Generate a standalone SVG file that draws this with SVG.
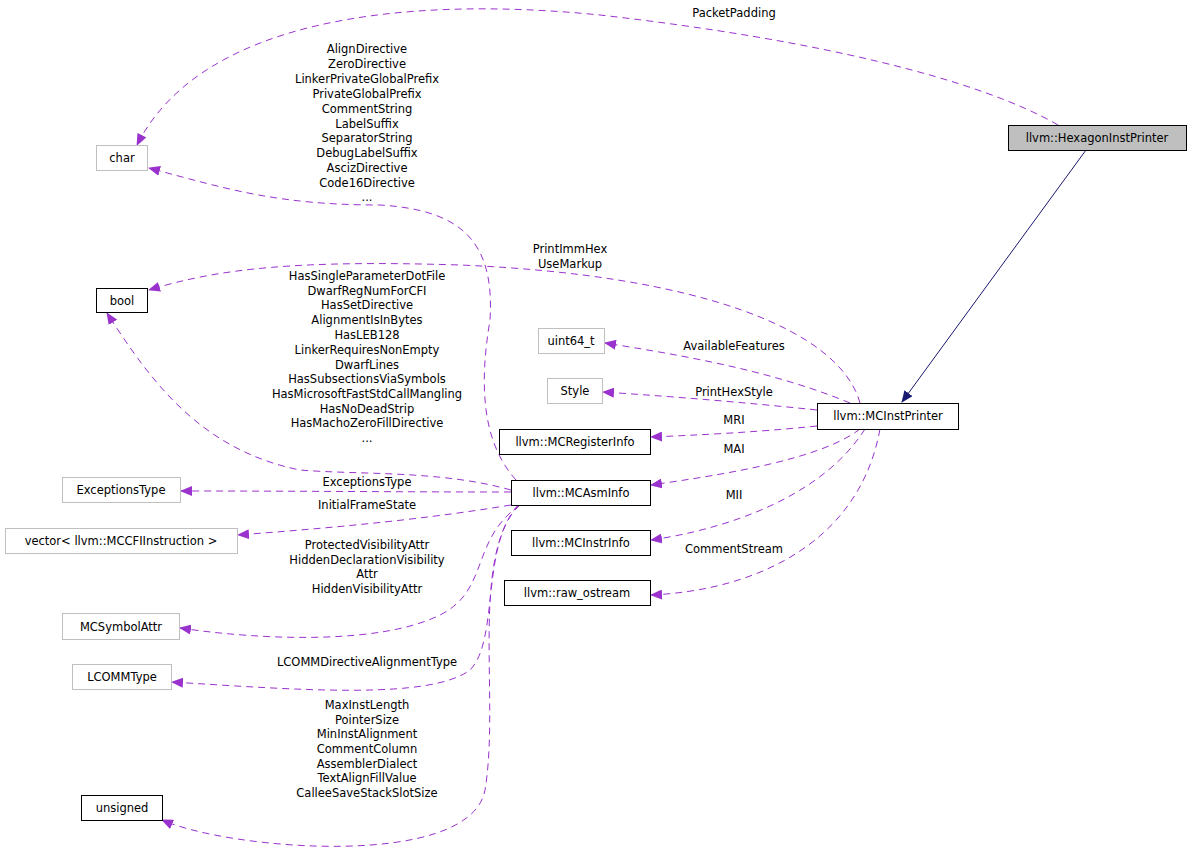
<svg xmlns="http://www.w3.org/2000/svg" width="1192" height="857" viewBox="0 0 1192 857">
<style>
text{font-family:"DejaVu Sans",sans-serif;font-size:11.5px;fill:#000;text-anchor:middle}
.b{fill:#fff;stroke:#000;stroke-width:1}
.g{fill:#fff;stroke:#bfbfbf;stroke-width:1}
.e{fill:none;stroke:#9a32cd;stroke-dasharray:7,5;stroke-width:1}
</style>
<defs>
<marker id="a" markerWidth="12" markerHeight="10" refX="11" refY="5" orient="auto" markerUnits="userSpaceOnUse"><path d="M0,0 L12,5 L0,10 z" fill="#9a32cd"/></marker>
<marker id="n" markerWidth="12" markerHeight="10" refX="11" refY="5" orient="auto" markerUnits="userSpaceOnUse"><path d="M0,0 L12,5 L0,10 z" fill="#191970"/></marker>
</defs>
<rect width="1192" height="857" fill="#fff"/>
<g id="edges">
<path class="e" marker-end="url(#a)" d="M1058,125 C980,80 820,40 600,15 C400,-5 200,20 137,145"/>
<path d="M1086,150 L902,402" stroke="#191970" fill="none" marker-end="url(#n)"/>
<path class="e" marker-end="url(#a)" d="M516,480 C480,440 480,380 490,320 C495,240 460,210 380,205 C280,205 230,190 149,168"/>
<path class="e" marker-end="url(#a)" d="M860,403 C840,330 700,275 460,265 C300,260 220,268 149,290"/>
<path class="e" marker-end="url(#a)" d="M511,490 C440,470 360,475 300,470 C200,450 150,380 107,313"/>
<text x="734" y="17">PacketPadding</text>
<path class="e" marker-end="url(#a)" d="M850,403 C770,370 680,355 605,343"/>
<path class="e" marker-end="url(#a)" d="M817,410 C750,403 680,397 603,392"/>
<path class="e" marker-end="url(#a)" d="M817,426 C760,432 700,435 651,437"/>
<path class="e" marker-end="url(#a)" d="M860,429 C820,460 720,475 651,485"/>
<path class="e" marker-end="url(#a)" d="M865,429 C820,500 720,530 651,540"/>
<path class="e" marker-end="url(#a)" d="M880,429 C860,540 760,590 651,595"/>
<path class="e" marker-end="url(#a)" d="M511,492 C400,492 300,491 181,491"/>
<path class="e" marker-end="url(#a)" d="M511,505 C420,520 330,528 238,535"/>
<path class="e" marker-end="url(#a)" d="M520,505 C470,540 490,590 440,615 C380,645 260,640 180,628"/>
<path class="e" marker-end="url(#a)" d="M520,505 C480,540 500,640 470,670 C430,700 300,690 172,682"/>
<path class="e" marker-end="url(#a)" d="M518,505 C470,560 500,700 485,790 C470,870 230,850 162,820"/>
</g>
<g id="labels">
<text x="367" y="53">AlignDirective</text>
<text x="367" y="68">ZeroDirective</text>
<text x="367" y="83">LinkerPrivateGlobalPrefix</text>
<text x="367" y="98">PrivateGlobalPrefix</text>
<text x="367" y="113">CommentString</text>
<text x="367" y="128">LabelSuffix</text>
<text x="367" y="142">SeparatorString</text>
<text x="367" y="157">DebugLabelSuffix</text>
<text x="367" y="172">AscizDirective</text>
<text x="367" y="187">Code16Directive</text>
<text x="367" y="201">...</text>
<text x="570" y="253">PrintImmHex</text>
<text x="570" y="268">UseMarkup</text>
<text x="367" y="280">HasSingleParameterDotFile</text>
<text x="367" y="295">DwarfRegNumForCFI</text>
<text x="367" y="309">HasSetDirective</text>
<text x="367" y="324">AlignmentIsInBytes</text>
<text x="367" y="339">HasLEB128</text>
<text x="367" y="354">LinkerRequiresNonEmpty</text>
<text x="367" y="369">DwarfLines</text>
<text x="367" y="383">HasSubsectionsViaSymbols</text>
<text x="367" y="398">HasMicrosoftFastStdCallMangling</text>
<text x="367" y="413">HasNoDeadStrip</text>
<text x="367" y="427">HasMachoZeroFillDirective</text>
<text x="367" y="442">...</text>
<text x="734" y="350">AvailableFeatures</text>
<text x="734" y="396">PrintHexStyle</text>
<text x="734" y="424">MRI</text>
<text x="734" y="453">MAI</text>
<text x="734" y="499">MII</text>
<text x="734" y="553">CommentStream</text>
<text x="367" y="486">ExceptionsType</text>
<text x="367" y="509">InitialFrameState</text>
<text x="367" y="549">ProtectedVisibilityAttr</text>
<text x="367" y="564">HiddenDeclarationVisibility</text>
<text x="367" y="578">Attr</text>
<text x="367" y="593">HiddenVisibilityAttr</text>
<text x="367" y="666">LCOMMDirectiveAlignmentType</text>
<text x="367" y="709">MaxInstLength</text>
<text x="367" y="724">PointerSize</text>
<text x="367" y="738">MinInstAlignment</text>
<text x="367" y="753">CommentColumn</text>
<text x="367" y="768">AssemblerDialect</text>
<text x="367" y="782">TextAlignFillValue</text>
<text x="367" y="797">CalleeSaveStackSlotSize</text>
</g>
<g id="HexagonInstPrinter"><rect x="1008.5" y="125.5" width="178" height="25" fill="#bfbfbf" stroke="#000"/><text x="1097" y="142">llvm::HexagonInstPrinter</text></g>
<g id="char"><rect class="g" x="96.5" y="145.5" width="51" height="25"/><text x="122" y="162">char</text></g>
<g id="bool"><rect class="b" x="96.5" y="288.5" width="51" height="24"/><text x="122" y="305">bool</text></g>
<g id="uint64_t"><rect class="g" x="538.5" y="328.5" width="66" height="25"/><text x="571" y="345">uint64_t</text></g>
<g id="Style"><rect class="g" x="547.5" y="378.5" width="55" height="25"/><text x="575" y="395">Style</text></g>
<g id="MCRegisterInfo"><rect class="b" x="499.5" y="429.5" width="151" height="25"/><text x="575" y="446">llvm::MCRegisterInfo</text></g>
<g id="MCInstPrinter"><rect class="b" x="817.5" y="403.5" width="141" height="26"/><text x="888" y="420">llvm::MCInstPrinter</text></g>
<g id="MCAsmInfo"><rect class="b" x="511.5" y="480.5" width="139" height="25"/><text x="581" y="497">llvm::MCAsmInfo</text></g>
<g id="ExceptionsType"><rect class="g" x="62.5" y="477.5" width="118" height="25"/><text x="121" y="494">ExceptionsType</text></g>
<g id="vector"><rect class="g" x="5.5" y="528.5" width="232" height="25"/><text x="121" y="545">vector&lt; llvm::MCCFIInstruction &gt;</text></g>
<g id="MCInstrInfo"><rect class="b" x="511.5" y="530.5" width="139" height="25"/><text x="581" y="547">llvm::MCInstrInfo</text></g>
<g id="raw_ostream"><rect class="b" x="504.5" y="580.5" width="146" height="25"/><text x="577" y="597">llvm::raw_ostream</text></g>
<g id="MCSymbolAttr"><rect class="g" x="62.5" y="613.5" width="117" height="26"/><text x="121" y="631">MCSymbolAttr</text></g>
<g id="LCOMMType"><rect class="g" x="72.5" y="664.5" width="99" height="25"/><text x="122" y="681">LCOMMType</text></g>
<g id="unsigned"><rect class="b" x="81.5" y="795.5" width="81" height="25"/><text x="122" y="812">unsigned</text></g>
</svg>
